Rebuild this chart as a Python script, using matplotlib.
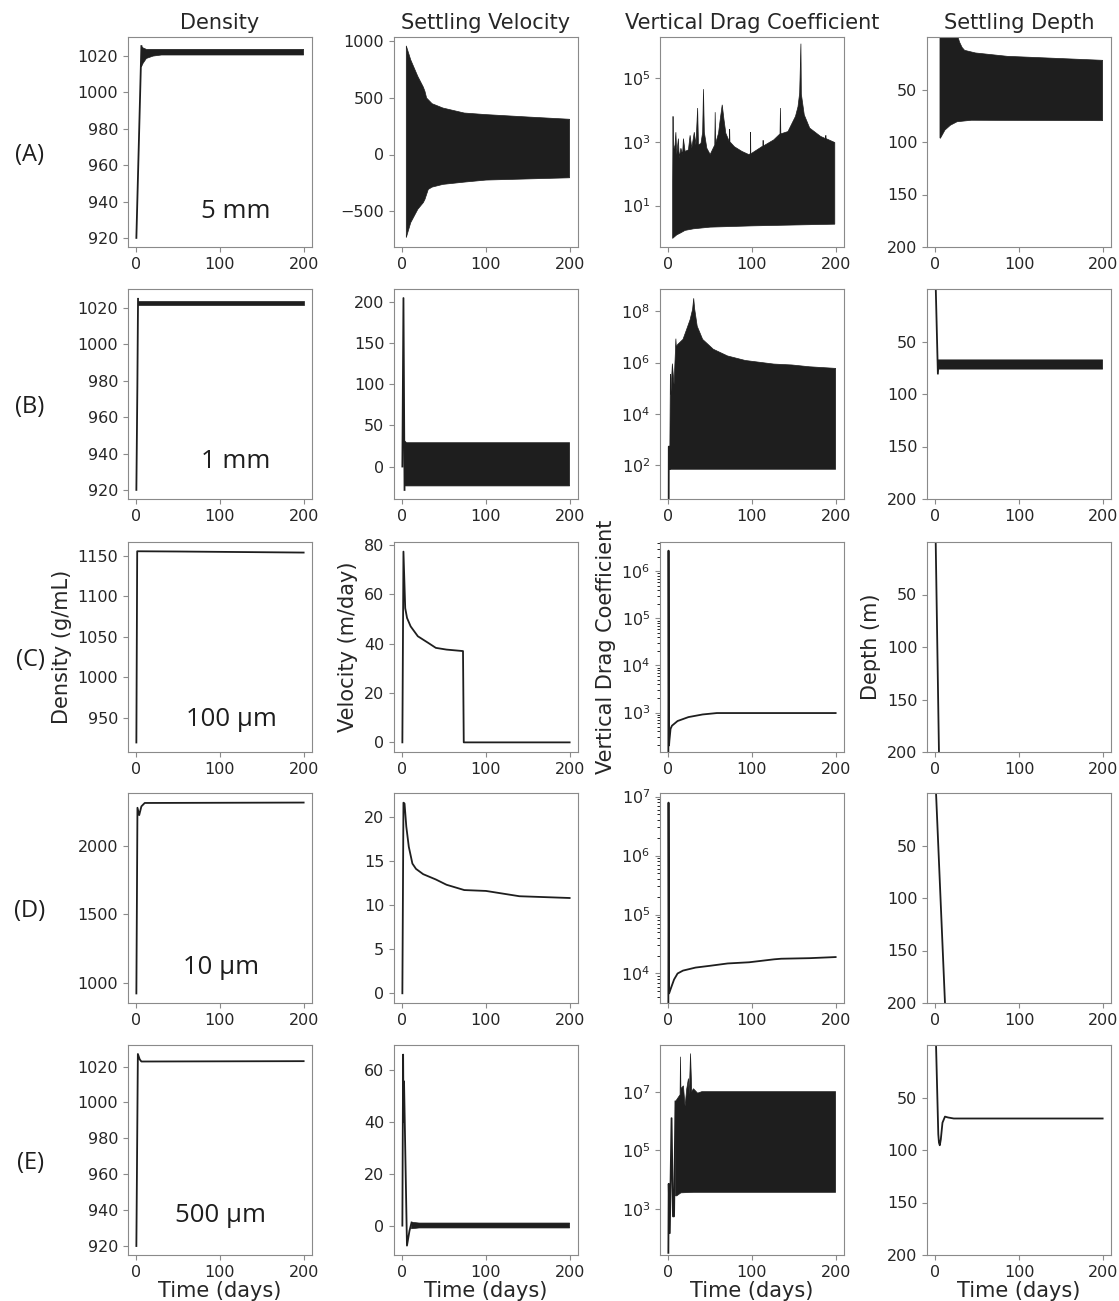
import numpy as np
import matplotlib
matplotlib.use("Agg")
import matplotlib.pyplot as plt

INK = "#1e1e1e"
SPINE = "#8a8a8a"

# ---------------- data ----------------
# row A : 5 mm
dens_a_t = [0, 6]
dens_a = [920, 1025.5]
dens_a_up_t = [6, 8, 12, 200]
dens_a_up = [1025.5, 1024.5, 1023.7, 1023.7]
dens_a_lo_t = [6, 8, 12, 20, 30, 200]
dens_a_lo = [1014, 1016, 1018.7, 1020, 1020.6, 1020.6]

vel_a_up_t = [4.7, 10, 18.5, 25, 27, 29, 35.6, 48.5, 74, 100, 150, 200]
vel_a_up = [956, 833, 687, 594, 556, 497, 447, 409, 365, 351, 330, 310]
vel_a_lo_t = [4.7, 10, 18.5, 25, 27, 31, 35.6, 48.5, 74, 100, 150, 200]
vel_a_lo = [-731, -600, -482, -424, -395, -307, -287, -263, -243, -225, -215, -205]

drag_a_up_t = [5.1, 5.6, 6.0, 8, 9, 10, 12, 13, 15, 17, 18, 20, 24, 26, 28, 31, 33, 35, 36,
               39, 41, 42, 43, 46, 50, 55.5, 56, 56.5, 60, 62, 64.4, 66.5, 68.7, 73, 73.3, 73.6,
               79, 88, 96, 98, 98.3, 98.6, 109, 113, 113.3, 113.6, 126, 133.5, 134, 134.5, 143,
               152, 155, 157, 158.5, 159, 162.5, 169, 182, 188, 188.3, 188.6, 199]
drag_a_up = [45, 6300, 500, 800, 2000, 400, 1260, 316, 630, 400, 1260, 500, 560, 1600, 630, 2000,
             800, 11500, 800, 890, 2000, 45000, 2000, 630, 400, 800, 8500, 890, 1860, 5000, 14500,
             5000, 1860, 1000, 2500, 1000, 700, 500, 400, 420, 2000, 420, 630, 740, 1120, 740, 1150,
             1780, 11500, 1780, 2100, 6300, 12600, 34000, 1.2e6, 31600, 7000, 2700, 1480, 1260,
             1600, 1260, 950]
drag_a_lo_t = [5.1, 10, 15, 20, 30, 50, 100, 150, 199]
drag_a_lo = [0.93, 1.2, 1.4, 1.66, 1.86, 2.1, 2.3, 2.45, 2.6]

depth_a_up_t = [5.5, 27, 29, 32, 35, 48, 86, 200]
depth_a_up = [0, 0, 5, 10, 12.7, 15.2, 18.4, 22.2]
depth_a_lo_t = [5.5, 6, 11.5, 18, 26, 43, 200]
depth_a_lo = [96, 96.5, 88.6, 84, 80.7, 79.3, 79.7]

# row B : 1 mm
dens_b_t = [0, 1.2, 2]
dens_b = [920, 977, 1025.1]
dens_b_up_t = [2, 200]
dens_b_up = [1023.8, 1023.8]
dens_b_lo_t = [2, 200]
dens_b_lo = [1021.8, 1021.8]

vel_b_t = [0, 1.3, 2.6]
vel_b = [0, 205, -28.5]
vel_b_up_t = [2.6, 3, 5, 200]
vel_b_up = [31, 31, 29, 29]
vel_b_lo_t = [2.6, 200]
vel_b_lo = [-23.6, -23.6]

drag_b_t = [0.4, 0.5, 1.7, 1.8]
drag_b = [4, 520, 520, 70]
drag_b_up_t = [1.8, 2.4, 3.0, 4.8, 6.8, 8.5, 9.0, 9.5, 11, 17.5, 21.7, 26, 29, 30.3, 31.5,
               34.5, 41, 53.7, 70.8, 92, 126, 148, 169, 200]
drag_b_up = [520, 3.5e5, 5.6e4, 9e5, 1.4e5, 3e6, 8.5e6, 4e6, 5e6, 8e6, 1.9e7, 4.7e7, 1.2e8,
             3.2e8, 1.2e8, 2.6e7, 8e6, 3.3e6, 1.8e6, 1.2e6, 8.7e5, 8e5, 6.8e5, 5.9e5]
drag_b_lo_t = [1.8, 200]
drag_b_lo = [68, 68]

depth_b_t = [0.5, 3.0]
depth_b = [0, 80.5]
depth_b_up_t = [3, 200]
depth_b_up = [67.5, 67.5]
depth_b_lo_t = [3, 4, 200]
depth_b_lo = [80, 76.3, 76.3]

# row C : 100 um
dens_c_t = [0, 1, 50, 200]
dens_c = [920, 1155.3, 1155, 1153.7]
vel_c_t = [0, 1.3, 3.4, 5.6, 9.9, 18.5, 31, 40, 52.8, 72.5, 73.4, 200]
vel_c = [0, 77.3, 54.4, 50.4, 47, 43, 40.3, 38.3, 37.6, 37, 0, 0]
drag_c_t = [0, 0.2, 0.8, 1.2, 2.6, 4.3, 11, 24, 41, 58, 200]
drag_c = [130, 2.75e6, 200, 250, 450, 525, 660, 800, 910, 975, 975]
depth_c_t = [0.4, 4.3]
depth_c = [0, 200]

# row D : 10 um
dens_d_t = [0, 1.3, 3.4, 6, 10, 200]
dens_d = [920, 2280, 2226, 2290, 2315, 2318]
vel_d_t = [0, 1.3, 2.6, 4.7, 7.7, 12, 16.3, 24.9, 40, 52.8, 74, 100, 120, 140, 170, 200]
vel_d = [0, 21.6, 21.5, 18.9, 16.6, 14.7, 14.1, 13.5, 12.9, 12.3, 11.7, 11.6, 11.3, 11.0, 10.9, 10.8]
drag_d_t = [0, 0.2, 0.9, 2.6, 6.8, 11, 17.5, 32.5, 49.6, 70.9, 96.6, 126.5, 135, 169, 200]
drag_d = [3000, 7.9e6, 4600, 5400, 7900, 1e4, 1.12e4, 1.26e4, 1.35e4, 1.48e4, 1.55e4,
          1.74e4, 1.78e4, 1.82e4, 1.9e4]
depth_d_t = [0.8, 11.5]
depth_d = [0, 200]

# row E : 500 um
dens_e_t = [0, 1.8, 4, 6, 200]
dens_e = [920, 1027, 1024, 1022.8, 1023]
vel_e_t = [0, 0.9, 1.4, 2.0, 5.5, 8.5, 11]
vel_e = [0, 65.8, 40, 55.5, -7.7, -2, 1.2]
vel_e_up_t = [11, 20, 200]
vel_e_up = [1.3, 1.0, 1.0]
vel_e_lo_t = [11, 20, 200]
vel_e_lo = [-1.2, -0.9, -0.9]
drag_e_t = [0, 0.4, 1.7, 3.8, 5.5, 6.8, 8.5]
drag_e = [32, 7200, 150, 1.25e6, 560, 560, 4.6e6]
drag_e_up_t = [8.5, 11, 14, 14.5, 15, 18, 20, 22, 24, 25, 26.5, 28, 30, 35, 40, 200]
drag_e_up = [4.6e6, 5.9e6, 7.9e6, 1.55e8, 1.26e7, 1.58e7, 3.2e6, 1.26e7, 2.8e7, 7.9e6, 2e8,
             1e7, 1.26e7, 8.9e6, 1e7, 1e7]
drag_e_lo_t = [8.5, 10, 15, 30, 200]
drag_e_lo = [2800, 2800, 3550, 3700, 3700]
depth_e_t = [0.8, 3.5, 4.3, 5.3, 6.5, 8.5, 11.5, 15, 22, 200]
depth_e = [0, 85, 93, 95.5, 90, 74, 68.2, 69, 70, 70]

row_tags = ["(A)", "(B)", "(C)", "(D)", "(E)"]
sizes = ["5 mm", "1 mm", "100 μm", "10 μm", "500 μm"]
size_pos = [(0.585, 0.14), (0.585, 0.148), (0.56, 0.124), (0.505, 0.138), (0.503, 0.158)]
col_titles = ["Density", "Settling Velocity", "Vertical Drag Coefficient", "Settling Depth"]
col_ylabels = ["Density (g/mL)", "Velocity (m/day)", "Vertical Drag Coefficient", "Depth (m)"]

# ---------------- layout ----------------
W, H = 1119, 1301
fig = plt.figure(figsize=(W / 100, H / 100), dpi=100)
col_left = [128, 394, 660, 927]
row_top = [37, 289, 542, 793, 1045]
aw, ah = 184, 210

axes = []
for r in range(5):
    row = []
    for c in range(4):
        ax = fig.add_axes([col_left[c] / W, 1 - (row_top[r] + ah) / H, aw / W, ah / H])
        for s in ax.spines.values():
            s.set_color(SPINE)
        ax.tick_params(labelsize=11.5, color=SPINE, labelcolor="#262626", length=3.5)
        ax.set_xlim(-10, 210)
        ax.set_xticks([0, 100, 200])
        row.append(ax)
    axes.append(row)


def line(ax, t, y):
    ax.plot(t, y, color=INK, lw=1.3)


def band(ax, t_up, up, t_lo, lo):
    xs = np.r_[np.asarray(t_up, float), np.asarray(t_lo, float)[::-1]]
    ys = np.r_[np.asarray(up, float), np.asarray(lo, float)[::-1]]
    ax.fill(xs, ys, color=INK, lw=0.5)


# row A
ax = axes[0][0]
line(ax, dens_a_t, dens_a)
band(ax, dens_a_up_t, dens_a_up, dens_a_lo_t, dens_a_lo)
ax.set_ylim(915, 1030.5)
ax.set_yticks(range(920, 1021, 20))
ax = axes[0][1]
band(ax, vel_a_up_t, vel_a_up, vel_a_lo_t, vel_a_lo)
ax.set_ylim(-814, 1034)
ax.set_yticks([-500, 0, 500, 1000])
ax = axes[0][2]
ax.set_yscale("log")
band(ax, drag_a_up_t, drag_a_up, drag_a_lo_t, drag_a_lo)
ax.set_ylim(0.5, 1.95e6)
ax.set_yticks([1e1, 1e3, 1e5])
ax = axes[0][3]
band(ax, depth_a_up_t, depth_a_up, depth_a_lo_t, depth_a_lo)

# row B
ax = axes[1][0]
line(ax, dens_b_t, dens_b)
band(ax, dens_b_up_t, dens_b_up, dens_b_lo_t, dens_b_lo)
ax.set_ylim(915, 1030.5)
ax.set_yticks(range(920, 1021, 20))
ax = axes[1][1]
line(ax, vel_b_t, vel_b)
band(ax, vel_b_up_t, vel_b_up, vel_b_lo_t, vel_b_lo)
ax.set_ylim(-39.5, 216)
ax.set_yticks([0, 50, 100, 150, 200])
ax = axes[1][2]
ax.set_yscale("log")
line(ax, drag_b_t, drag_b)
band(ax, drag_b_up_t, drag_b_up, drag_b_lo_t, drag_b_lo)
ax.set_ylim(4.7, 7.4e8)
ax.set_yticks([1e2, 1e4, 1e6, 1e8])
ax = axes[1][3]
line(ax, depth_b_t, depth_b)
band(ax, depth_b_up_t, depth_b_up, depth_b_lo_t, depth_b_lo)

# row C
ax = axes[2][0]
line(ax, dens_c_t, dens_c)
ax.set_ylim(908.3, 1166.7)
ax.set_yticks([950, 1000, 1050, 1100, 1150])
ax = axes[2][1]
line(ax, vel_c_t, vel_c)
ax.set_ylim(-3.9, 81.2)
ax.set_yticks([0, 20, 40, 60, 80])
ax = axes[2][2]
ax.set_yscale("log")
line(ax, drag_c_t, drag_c)
ax.set_ylim(145, 4.2e6)
ax.set_yticks([1e3, 1e4, 1e5, 1e6])
ax = axes[2][3]
line(ax, depth_c_t, depth_c)

# row D
ax = axes[3][0]
line(ax, dens_d_t, dens_d)
ax.set_ylim(850, 2388)
ax.set_yticks([1000, 1500, 2000])
ax = axes[3][1]
line(ax, vel_d_t, vel_d)
ax.set_ylim(-1.1, 22.7)
ax.set_yticks([0, 5, 10, 15, 20])
ax = axes[3][2]
ax.set_yscale("log")
line(ax, drag_d_t, drag_d)
ax.set_ylim(3160, 1.15e7)
ax.set_yticks([1e4, 1e5, 1e6, 1e7])
ax = axes[3][3]
line(ax, depth_d_t, depth_d)

# row E
ax = axes[4][0]
line(ax, dens_e_t, dens_e)
ax.set_ylim(915, 1032)
ax.set_yticks(range(920, 1021, 20))
ax = axes[4][1]
line(ax, vel_e_t, vel_e)
band(ax, vel_e_up_t, vel_e_up, vel_e_lo_t, vel_e_lo)
ax.set_ylim(-11.3, 69.5)
ax.set_yticks([0, 20, 40, 60])
ax = axes[4][2]
ax.set_yscale("log")
line(ax, drag_e_t, drag_e)
band(ax, drag_e_up_t, drag_e_up, drag_e_lo_t, drag_e_lo)
ax.set_ylim(27, 3.9e8)
ax.set_yticks([1e3, 1e5, 1e7])
ax = axes[4][3]
line(ax, depth_e_t, depth_e)

# depth columns: inverted, 0 at top
for r in range(5):
    ax = axes[r][3]
    ax.set_ylim(200, 0)
    ax.set_yticks([50, 100, 150, 200])

for c in range(4):
    axes[0][c].set_title(col_titles[c], fontsize=15, color="#262626", pad=6)
    axes[2][c].set_ylabel(col_ylabels[c], fontsize=15, color="#262626", labelpad=4)
    axes[4][c].set_xlabel("Time (days)", fontsize=15, color="#262626", labelpad=1)

for r in range(5):
    axes[r][0].text(size_pos[r][0], size_pos[r][1], sizes[r], transform=axes[r][0].transAxes,
                    ha="center", va="baseline", fontsize=18.5, family="Open Sans", color=INK)
    yc = 1 - (row_top[r] + ah / 2 + 13) / H
    fig.text(30 / W, yc, row_tags[r], ha="center", va="center", fontsize=17,
             family="Open Sans", color=INK)

fig.savefig("out.png", dpi=100)
